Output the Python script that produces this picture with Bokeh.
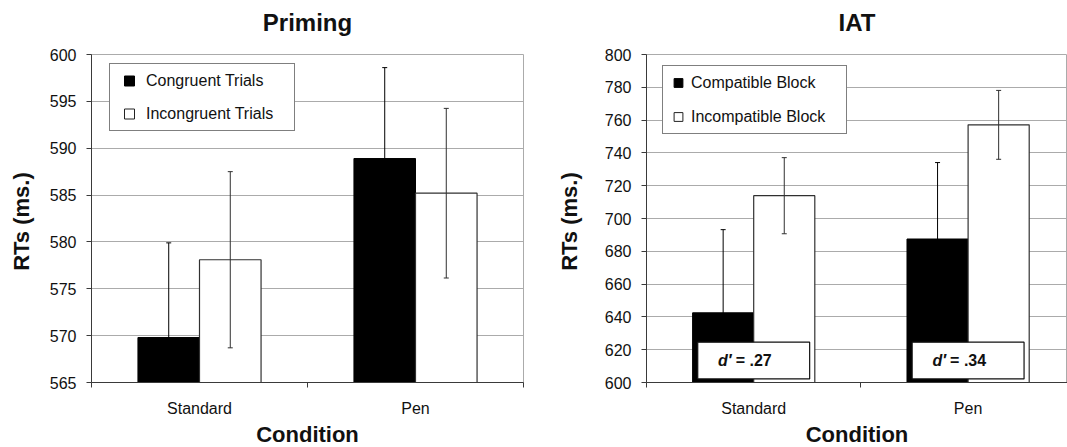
import numpy as np
from bokeh.plotting import figure
from bokeh.layouts import row
from bokeh.models import Range1d, FixedTicker, Legend, LegendItem, LinearAxis
from bokeh.core.properties import value
from bokeh.embed import file_html
from bokeh.resources import INLINE

# ---------------- data ----------------
conditions = ["Standard", "Pen"]

priming_series = ["Congruent Trials", "Incongruent Trials"]
priming_congruent = [569.8, 588.9]
priming_congruent_err = [10.1, 9.7]
priming_incongruent = [578.1, 585.2]
priming_incongruent_err = [9.4, 9.05]
priming_yticks = [565, 570, 575, 580, 585, 590, 595, 600]

iat_series = ["Compatible Block", "Incompatible Block"]
iat_compatible = [642.5, 687.5]
iat_compatible_err = [50.7, 46.6]
iat_incompatible = [713.9, 757.1]
iat_incompatible_err = [23.2, 21.0]
iat_dprime = [".27", ".34"]
iat_yticks = [600, 620, 640, 660, 680, 700, 720, 740, 760, 780, 800]

FONT = "Liberation Sans"
TXT = "#111111"
AXIS = "#3a3a3a"
GRID = "#ababab"


def make_panel(title, series, vals_a, err_a, vals_b, err_b, yticks, frame_w, x_end,
               min_left, min_right, ylab_standoff, leg_loc, leg_glyph_w,
               leg_label_w, leg_spacing):
    n = len(conditions)
    centers = np.arange(n) + 0.5
    bounds = np.arange(n + 1)
    p = figure(output_backend="svg", toolbar_location=None,
               frame_width=frame_w, frame_height=328,
               x_range=Range1d(0, x_end), y_range=Range1d(yticks[0], yticks[-1]),
               min_border_left=min_left, min_border_right=min_right,
               min_border_top=54, min_border_bottom=65,
               background_fill_color="white", border_fill_color="white")

    xa = p.below[0]
    ya = p.left[0]

    # chart title, drawn as the label of a bare axis above the frame
    top_ax = LinearAxis(ticker=FixedTicker(ticks=[], minor_ticks=[]),
                        axis_label=title, axis_line_color=None,
                        major_tick_line_color=None, minor_tick_line_color=None,
                        major_tick_out=0, major_tick_in=0, minor_tick_out=0, minor_tick_in=0,
                        major_label_standoff=0, major_label_text_font_size="0px",
                        axis_label_standoff=19, axis_label_text_font=FONT,
                        axis_label_text_font_size="24px", axis_label_text_font_style="bold",
                        axis_label_text_color=TXT)
    p.add_layout(top_ax, "above")

    p.outline_line_color = GRID
    p.outline_line_width = 1
    p.xgrid.grid_line_color = None
    p.ygrid.grid_line_color = GRID
    p.ygrid.grid_line_width = 1

    # y axis
    ya.ticker = FixedTicker(ticks=yticks)
    ya.axis_line_color = AXIS
    ya.major_tick_line_color = AXIS
    ya.major_tick_out = 5
    ya.major_tick_in = 0
    ya.minor_tick_line_color = None
    ya.major_label_standoff = 10
    ya.major_label_text_font = FONT
    ya.major_label_text_font_size = "16px"
    ya.major_label_text_color = TXT
    ya.axis_label = "RTs  (ms.)"
    ya.axis_label_text_font = FONT
    ya.axis_label_text_font_size = "22px"
    ya.axis_label_text_font_style = "bold"
    ya.axis_label_text_color = TXT
    ya.axis_label_standoff = ylab_standoff

    # x axis: labels at category centres, ticks at category boundaries
    xa.ticker = FixedTicker(ticks=list(centers), minor_ticks=list(bounds))
    xa.major_label_overrides = {float(c): name for c, name in zip(centers, conditions)}
    xa.axis_line_color = AXIS
    xa.major_tick_line_color = None
    xa.major_tick_out = 5
    xa.major_tick_in = 0
    xa.minor_tick_line_color = AXIS
    xa.minor_tick_out = 5
    xa.minor_tick_in = 0
    xa.major_label_standoff = 12
    xa.major_label_text_font = FONT
    xa.major_label_text_font_size = "16px"
    xa.major_label_text_color = TXT
    xa.axis_label = "Condition"
    xa.axis_label_text_font = FONT
    xa.axis_label_text_font_size = "22px"
    xa.axis_label_text_font_style = "bold"
    xa.axis_label_text_color = TXT
    xa.axis_label_standoff = 2

    half = 0.285
    xa_pos = centers - half / 2
    xb_pos = centers + half / 2
    base = yticks[0]
    p.vbar(x=xa_pos, top=vals_a, bottom=base, width=half,
           fill_color="black", line_color="black", line_width=1)
    p.vbar(x=xb_pos, top=vals_b, bottom=base, width=half,
           fill_color="white", line_color="#303030", line_width=1.2)

    for xs, v, e, col in ((xa_pos, vals_a, err_a, "#000000"), (xb_pos, vals_b, err_b, "#303030")):
        v = np.array(v)
        e = np.array(e)
        p.segment(x0=xs, y0=v - e, x1=xs, y1=v + e, line_color=col, line_width=1)
        p.dash(x=xs, y=v + e, size=5, line_color=col, line_width=1)
        p.dash(x=xs, y=v - e, size=5, line_color=col, line_width=1)

    # legend (square markers; the renderers carry no visible point)
    ra = p.scatter(x=[np.nan], y=[np.nan], marker="square", size=10,
                   fill_color="black", line_color="black")
    rb = p.scatter(x=[np.nan], y=[np.nan], marker="square", size=10,
                   fill_color="white", line_color="#222222")
    legend = Legend(items=[LegendItem(label=series[0], renderers=[ra]),
                           LegendItem(label=series[1], renderers=[rb])],
                    location=leg_loc, padding=4, spacing=leg_spacing, margin=0,
                    glyph_width=leg_glyph_w, glyph_height=25,
                    label_standoff=2, label_width=leg_label_w, label_height=25,
                    label_text_font=FONT, label_text_font_size="16px",
                    label_text_color=TXT,
                    border_line_color="black", border_line_width=1,
                    background_fill_color="white", background_fill_alpha=1.0)
    p.add_layout(legend)
    return p, centers


p1, _ = make_panel("Priming", priming_series, priming_congruent, priming_congruent_err,
                   priming_incongruent, priming_incongruent_err, priming_yticks,
                   frame_w=432, x_end=2.0, min_left=91, min_right=7, ylab_standoff=13,
                   leg_loc=(18, 251), leg_glyph_w=30, leg_label_w=144,
                   leg_spacing=8)

p2, centers = make_panel("IAT", iat_series, iat_compatible, iat_compatible_err,
                         iat_incompatible, iat_incompatible_err, iat_yticks,
                         frame_w=421, x_end=421 / 214.4, min_left=116, min_right=0,
                         ylab_standoff=20, leg_loc=(16, 248), leg_glyph_w=22,
                         leg_label_w=151, leg_spacing=9)

# d' effect-size boxes on the IAT panel
box_half = 0.261
p2.quad(left=centers - box_half, right=centers + box_half, bottom=602.2, top=624.6,
        fill_color="white", line_color="#111111", line_width=1.2)
p2.text(x=centers, y=[613.4] * len(centers), text=["d\u2032"] * len(centers),
        text_align="right", text_baseline="middle", x_offset=-22,
        text_font=value(FONT), text_font_size="16px", text_font_style="bold italic",
        text_color=TXT)
p2.text(x=centers, y=[613.4] * len(centers), text=["= " + d for d in iat_dprime],
        text_align="left", text_baseline="middle", x_offset=-18,
        text_font=value(FONT), text_font_size="16px", text_font_style="bold",
        text_color=TXT)

layout = row(p1, p2)
open("out.html", "w").write(file_html(layout, INLINE))
